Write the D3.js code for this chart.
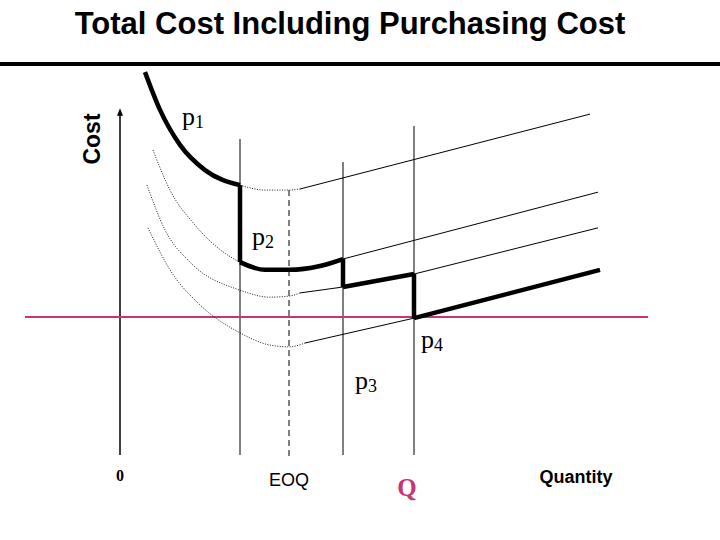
<!DOCTYPE html>
<html>
<head>
<meta charset="utf-8">
<script src="https://cdn.jsdelivr.net/npm/d3@7"></script>
<style>
  body { margin: 0; background: #fff; }
  svg { display: block; }
</style>
</head>
<body>
<svg id="chart" width="720" height="540"></svg>
<script>
// quantity breaks where price changes, and the EOQ
const breaks = [24, 44.6, 58.8];
const eoq = 33.8;
const qLevel = 58.8;
const minCost = 39.4;

// one total cost curve per price level [quantity, cost]
const curveP1 = [[5,109.4],[8,98.6],[12,88.6],[17,81.4],[24,77.1],[29,75.7],[33.8,75.7],[36,76],[94,97.4]];
const curveP2 = [[6.6,87.1],[10,75.7],[15,65.7],[24,55.1],[29,52.9],[33.8,52.9],[40,54],[44.6,56],[95.6,75.1]];
const curveP3 = [[5.4,77.1],[9,64.3],[14,55.1],[24,47.1],[30,45.1],[33.8,45.4],[36,46.3],[44.6,48],[58.8,51.7],[95.6,64.9]];
const curveP4 = [[5.6,64.9],[10,52.9],[16,42.9],[24,34.9],[30,31.4],[33.8,30.9],[37,32],[58.8,39.1],[96,52.9]];
const curves = [curveP1, curveP2, curveP3, curveP4];
// which quantity range each curve is the lowest cost on
const activeRanges = [[0, 24], [24, 44.6], [44.6, 58.8], [58.8, 100]];
const solidFrom = 36;

const svg = d3.select("#chart");
const x = d3.scaleLinear().domain([0, 100]).range([120, 620]);
const y = d3.scaleLinear().domain([0, 100]).range([455, 105]);

const line = d3.line()
  .x(d => x(d[0]))
  .y(d => y(d[1]))
  .curve(d3.curveMonotoneX);
const straight = d3.line()
  .x(d => x(d[0]))
  .y(d => y(d[1]));

// title and top rule
svg.append("text")
  .attr("x", 350).attr("y", 34)
  .attr("text-anchor", "middle")
  .style("font", "bold 31px 'Liberation Sans', Arial, sans-serif")
  .text("Total Cost Including Purchasing Cost");
svg.append("line")
  .attr("x1", 0).attr("x2", 720).attr("y1", 64).attr("y2", 64)
  .attr("stroke", "#000").attr("stroke-width", 4);

// y axis with arrow
svg.append("defs").append("marker")
  .attr("id", "arrow").attr("viewBox", "0 0 10 10")
  .attr("refX", 5).attr("refY", 5)
  .attr("markerWidth", 5).attr("markerHeight", 6).attr("orient", "auto")
  .append("path").attr("d", "M0,1L10,5L0,9Z").attr("fill", "#000");
svg.append("line")
  .attr("x1", x(0)).attr("x2", x(0)).attr("y1", 455).attr("y2", 112)
  .attr("stroke", "#000").attr("stroke-width", 1.5)
  .attr("marker-end", "url(#arrow)");
svg.append("text")
  .attr("transform", "translate(100,139) rotate(-90)")
  .attr("text-anchor", "middle")
  .style("font", "bold 23px 'Liberation Sans', Arial, sans-serif")
  .text("Cost");

// vertical break lines
const breakTops = [139, 162, 126];
breaks.forEach((b, i) => {
  svg.append("line")
    .attr("x1", x(b)).attr("x2", x(b)).attr("y1", breakTops[i]).attr("y2", 455)
    .attr("stroke", "#000").attr("stroke-width", 1);
});
svg.append("line")
  .attr("x1", x(eoq)).attr("x2", x(eoq)).attr("y1", 190).attr("y2", 460)
  .attr("stroke", "#000").attr("stroke-width", 1)
  .attr("stroke-dasharray", "6,4");

// min cost line
svg.append("line")
  .attr("x1", 25).attr("x2", 648).attr("y1", y(minCost)).attr("y2", y(minCost))
  .attr("stroke", "#cc3377").attr("stroke-width", 2);

// thin curves: dotted left of the minimum, straight solid after
curves.forEach(c => {
  svg.append("path")
    .attr("d", line(c.filter(d => d[0] <= solidFrom + 2)))
    .attr("fill", "none").attr("stroke", "#000").attr("stroke-width", 0.9)
    .attr("stroke-dasharray", "1,1.5");
  svg.append("path")
    .attr("d", straight(c.filter(d => d[0] >= solidFrom)))
    .attr("fill", "none").attr("stroke", "#000").attr("stroke-width", 1);
});

// thick total cost curve
curves.forEach((c, i) => {
  const seg = c.filter(d => d[0] >= activeRanges[i][0] && d[0] <= activeRanges[i][1]);
  svg.append("path")
    .attr("d", line(seg))
    .attr("fill", "none").attr("stroke", "#000").attr("stroke-width", 4.5)
    .attr("stroke-linejoin", "round");
});
breaks.forEach((b, i) => {
  const top = curves[i].find(d => d[0] === b);
  const bot = curves[i + 1].find(d => d[0] === b);
  svg.append("line")
    .attr("x1", x(b)).attr("x2", x(b)).attr("y1", y(top[1])).attr("y2", y(bot[1]))
    .attr("stroke", "#000").attr("stroke-width", 4.5);
});

// price labels
const priceLabels = [["1", 182, 125], ["2", 252, 245], ["4", 421, 348], ["3", 355, 389]];
priceLabels.forEach(p => {
  const t = svg.append("text")
    .attr("x", p[1]).attr("y", p[2])
    .style("font", "26px 'Liberation Serif', 'Times New Roman', serif")
    .text("p");
  t.append("tspan").attr("dy", 3).style("font-size", "18px").text(p[0]);
});

// x labels
svg.append("text").attr("x", x(0)).attr("y", 481).attr("text-anchor", "middle")
  .style("font", "bold 16px 'Liberation Serif', serif").text("0");
svg.append("text").attr("x", x(eoq)).attr("y", 486).attr("text-anchor", "middle")
  .style("font", "18px 'Liberation Sans', Arial, sans-serif").text("EOQ");
svg.append("text").attr("x", x(qLevel) - 7).attr("y", 496).attr("text-anchor", "middle")
  .attr("fill", "#cc3377")
  .style("font", "bold 25px 'Liberation Serif', serif").text("Q");
svg.append("text").attr("x", 576).attr("y", 483).attr("text-anchor", "middle")
  .style("font", "bold 18px 'Liberation Sans', Arial, sans-serif").text("Quantity");
</script>
</body>
</html>
